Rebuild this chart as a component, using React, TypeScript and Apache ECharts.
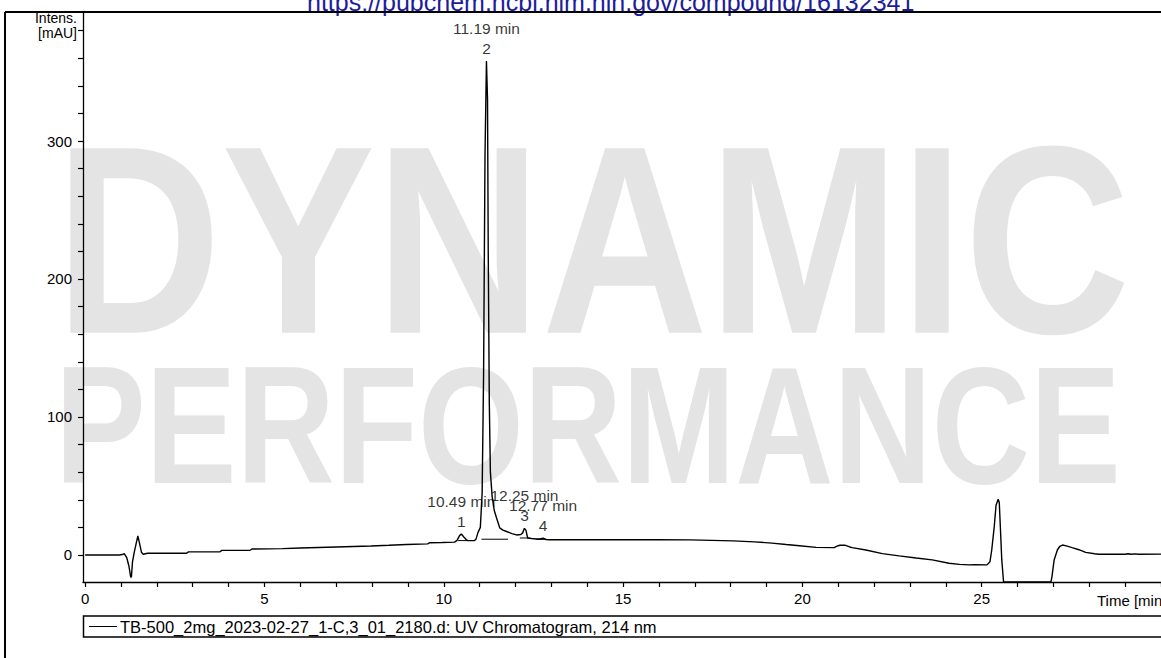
import React, { useEffect, useRef } from "react";
import * as echarts from "echarts";

const FONT = '"Liberation Sans", Arial, Helvetica, sans-serif';

// UV chromatogram trace (time in min, intensity in mAU)
const timeMin = [
  0, 0.95, 1.04, 1.09, 1.16, 1.22, 1.27, 1.29, 1.32, 1.37, 1.42, 1.47, 1.52, 1.57, 1.62, 1.74,
  2.83, 2.88, 3.76, 3.81, 4.6, 4.65, 5.5, 6.0, 7.0, 7.97, 8.47, 8.96, 9.55, 9.61, 9.95, 10.3,
  10.37, 10.44, 10.49, 10.56, 10.63, 10.68, 10.86, 10.9, 10.95, 11.02, 11.07, 11.11, 11.15, 11.19,
  11.22, 11.24, 11.27, 11.3, 11.35, 11.41, 11.47, 11.52, 11.56, 11.65, 11.75, 11.9, 12.03, 12.15,
  12.2, 12.25, 12.29, 12.34, 12.45, 12.58, 12.68, 12.77, 12.85, 12.95, 13.9, 14.9, 15.9, 16.87,
  17.47, 18.06, 18.66, 19.15, 19.55, 19.92, 20.38, 20.89, 20.97, 21.05, 21.2, 21.32, 21.39, 21.77,
  22.23, 22.7, 23.17, 23.62, 24.09, 24.38, 24.65, 24.8, 25.15, 25.23, 25.28, 25.35, 25.4, 25.46,
  25.49, 25.52, 25.56, 25.61, 26.93, 26.96, 27.02, 27.11, 27.18, 27.25, 27.36, 27.52, 27.71,
  27.9, 28.15, 28.27, 29.0, 29.08, 29.17, 29.27, 29.37, 30.0,
];
const intensity = [
  0, 0, 0.3, 1.0, -2, -8, -16, -16, -5, 2, 8, 13.8, 8, 2, 0.5, 1.2,
  1.2, 2.2, 2.3, 3.3, 3.4, 4.3, 4.6, 5.0, 5.8, 6.5, 7.0, 7.6, 8.0, 8.9, 9.0, 9.3,
  10.6, 14.0, 15.2, 13, 11, 10.4, 10.4, 11.5, 16, 20, 45, 130, 290, 358,
  330, 220, 110, 60, 42, 32, 27, 23, 19.6, 18, 17, 15.5, 14.5, 14.8,
  16, 19.3, 18, 12.3, 11.9, 11.6, 11.6, 12.2, 11.2, 11.0, 11.0, 11.0, 11.0, 10.9,
  10.6, 10.2, 9.5, 8.6, 7.6, 6.7, 5.5, 5.3, 6.5, 7.0, 7.0, 5.8, 5.3, 3.6,
  1.0, -0.7, -2.2, -3.6, -6.0, -6.8, -7.2, -7.0, -7.2, -5, 3.6, 20.5, 36, 40.3,
  38, 20.5, -3.6, -19.6, -19.6, -15.7, -3.6, 3.6, 6.3, 7.2, 6.6, 5.3, 3.8,
  1.9, 0.9, 0.5, 0.5, 0.9, 0.5, 0.8, 0.5, 0.6,
];

// Integrated peaks
const peakTimes = [10.49, 11.19, 12.25, 12.77];
const peakHeights = [15.2, 358, 19.3, 12.2];
const peakNumbers = ["1", "2", "3", "4"];

// Integration baselines under the peaks
const baseStart = [10.4, 11.05, 12.12, 12.58];
const baseEnd = [10.68, 11.79, 12.4, 12.86];
const baseLevel = [10.4, 11.4, 12.3, 11.3];

// Axis ticks and labels
const xLabelValues = [0, 5, 10, 15, 20, 25];
const xTickValues = Array.from({ length: 31 }, (_, i) => i);
const yLabelValues = [0, 100, 200, 300];
const yTickValues = Array.from({ length: 20 }, (_, i) => i * 20);

const legendText = "TB-500_2mg_2023-02-27_1-C,3_01_2180.d: UV Chromatogram, 214 nm";
const urlText = "https://pubchem.ncbi.nlm.nih.gov/compound/16132341";

export default function App() {
  const ref = useRef<HTMLDivElement>(null);

  useEffect(() => {
    const chart = echarts.init(ref.current as HTMLDivElement, null, { renderer: "svg" });
    const trace = timeMin.map((t, i) => [t, intensity[i]]);

    const baseSeries = baseStart.map((s, i) => ({
      type: "line",
      data: [
        [s, baseLevel[i]],
        [baseEnd[i], baseLevel[i]],
      ],
      symbol: "none",
      silent: true,
      z: 3,
      lineStyle: { color: "#000", width: 1 },
    }));

    const option: any = {
      animation: false,
      backgroundColor: "#fff",
      textStyle: { fontFamily: FONT },
      grid: { left: 83, right: 0, top: 12, bottom: 76, containLabel: false },
      xAxis: {
        type: "value",
        min: -0.06,
        max: 30,
        axisLine: { show: true, onZero: false, lineStyle: { color: "#000", width: 1.3 } },
        axisTick: { show: true, length: 5, customValues: xTickValues, lineStyle: { color: "#000", width: 1.2 } },
        axisLabel: { customValues: xLabelValues, color: "#000", fontSize: 15, fontFamily: FONT, margin: 9 },
        splitLine: { show: false },
      },
      yAxis: {
        type: "value",
        min: -19.6,
        max: 393.5,
        axisLine: { show: true, onZero: false, lineStyle: { color: "#000", width: 1.3 } },
        axisTick: { show: true, length: 5, customValues: yTickValues, lineStyle: { color: "#000", width: 1.2 } },
        axisLabel: { customValues: yLabelValues, color: "#000", fontSize: 15, fontFamily: FONT, margin: 11 },
        splitLine: { show: false },
      },
      series: [
        {
          type: "line",
          data: trace,
          symbol: "none",
          z: 4,
          lineStyle: { color: "#000", width: 1.4 },
        },
        ...baseSeries,
        {
          type: "scatter",
          data: peakTimes.map((t, i) => [t, peakHeights[i]]),
          symbolSize: 1,
          itemStyle: { color: "rgba(0,0,0,0)" },
          z: 5,
          label: {
            show: true,
            position: "top",
            distance: 2,
            color: "#000",
            fontSize: 15.5,
            fontFamily: FONT,
            lineHeight: 20,
            align: "center",
            formatter: (p: any) => `${peakTimes[p.dataIndex].toFixed(2)} min\n${peakNumbers[p.dataIndex]}`,
          },
        },
      ],
      graphic: [
        {
          type: "text",
          x: 55,
          y: 240,
          scaleX: 0.86,
          z: -10,
          silent: true,
          style: {
            text: "DYNAMIC",
            fontSize: 268,
            fontWeight: "bold",
            fontFamily: FONT,
            fill: "#e4e4e4",
            align: "left",
            verticalAlign: "middle",
          },
        },
        {
          type: "text",
          x: 55,
          y: 425,
          scaleX: 0.81,
          z: -10,
          silent: true,
          style: {
            text: "PERFORMANCE",
            fontSize: 168,
            fontWeight: "bold",
            fontFamily: FONT,
            fill: "#e4e4e4",
            align: "left",
            verticalAlign: "middle",
          },
        },
        {
          type: "text",
          x: 307,
          y: 2,
          z: 50,
          style: { text: urlText, fontSize: 25, fontFamily: FONT, fill: "#1d1d9b", align: "left", verticalAlign: "middle" },
        },
        { type: "line", z: 60, shape: { x1: 5, y1: 12, x2: 1161, y2: 12 }, style: { stroke: "#000", lineWidth: 2 } },
        { type: "line", z: 60, shape: { x1: 5, y1: 12, x2: 5, y2: 658 }, style: { stroke: "#000", lineWidth: 2 } },
        {
          type: "text",
          x: 77,
          y: 18,
          z: 50,
          style: { text: "Intens.", fontSize: 14, fontFamily: FONT, fill: "#000", align: "right", verticalAlign: "middle" },
        },
        {
          type: "text",
          x: 77,
          y: 33,
          z: 50,
          style: { text: "[mAU]", fontSize: 14, fontFamily: FONT, fill: "#000", align: "right", verticalAlign: "middle" },
        },
        {
          type: "text",
          x: 1097,
          y: 600,
          z: 50,
          style: { text: "Time [min]", fontSize: 15, fontFamily: FONT, fill: "#000", align: "left", verticalAlign: "middle" },
        },
        {
          type: "rect",
          z: 50,
          shape: { x: 83.5, y: 616, width: 1100, height: 21 },
          style: { fill: "none", stroke: "#000", lineWidth: 1.5 },
        },
        { type: "line", z: 50, shape: { x1: 89, y1: 626.5, x2: 117, y2: 626.5 }, style: { stroke: "#000", lineWidth: 1 } },
        {
          type: "text",
          x: 120,
          y: 627,
          z: 50,
          style: { text: legendText, fontSize: 16.5, fontFamily: FONT, fill: "#000", align: "left", verticalAlign: "middle" },
        },
      ],
    };

    chart.setOption(option);
    return () => chart.dispose();
  }, []);

  return (
    <div
      ref={ref}
      style={{ position: "absolute", left: 0, top: 0, width: 1161, height: 658, background: "#fff" }}
    />
  );
}
